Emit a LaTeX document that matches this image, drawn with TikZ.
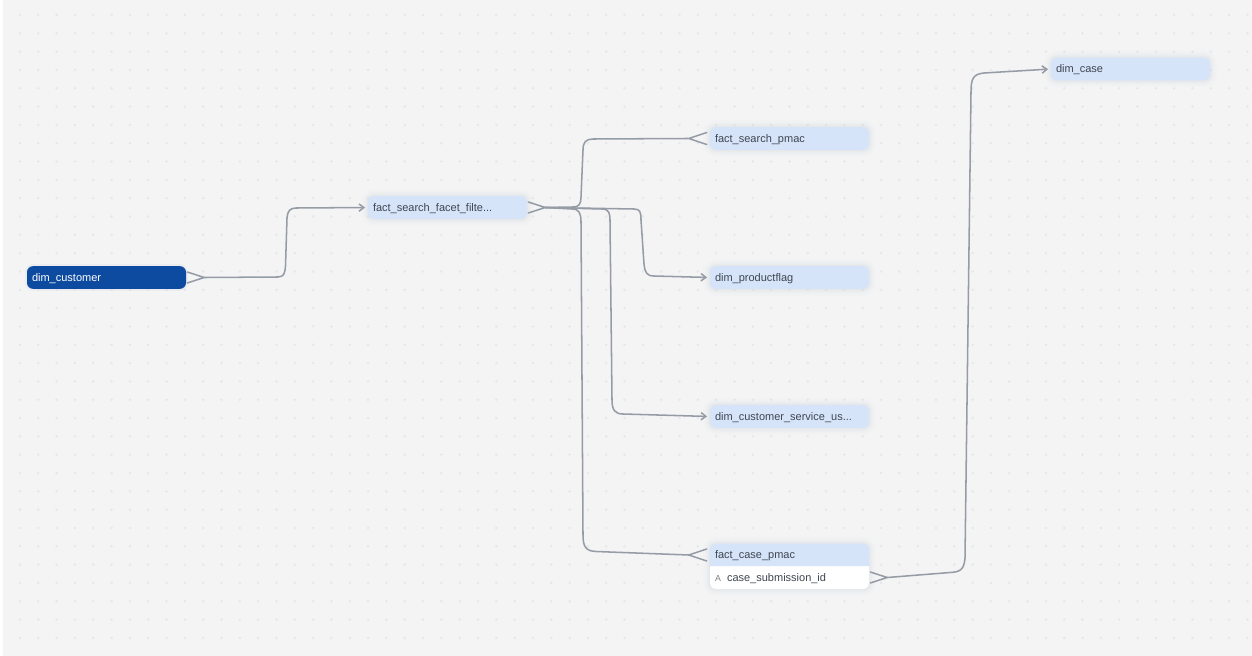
\documentclass[tikz,border=0pt]{standalone}
\usepackage{fontspec}
\setmainfont{Liberation Sans}
\usetikzlibrary{arrows.meta,calc}
\definecolor{canvas}{HTML}{F4F4F5}
\definecolor{griddot}{HTML}{E4E8EA}
\definecolor{paleblue}{HTML}{D6E4FA}
\definecolor{deepblue}{HTML}{0D4BA0}
\definecolor{inktext}{HTML}{3F4650}
\definecolor{linkgrey}{HTML}{959CA6}
\definecolor{halo}{HTML}{D4D8DE}
\tikzset{
  x=0.75pt,y=-0.75pt,
  halostyle/.style={
    preaction={draw=halo,draw opacity=.07,line width=10pt},
    preaction={draw=halo,draw opacity=.10,line width=7pt},
    preaction={draw=halo,draw opacity=.14,line width=4pt},
    preaction={draw=halo,draw opacity=.18,line width=1.8pt}},
  tablebox/.style={rectangle,rounded corners=4.5pt,minimum width=119.25pt,minimum height=17pt,
    text width=111.75pt,inner xsep=3.75pt,inner ysep=0pt,align=left,
    text height=7pt,text depth=1.4pt,
    font=\fontsize{8.25pt}{9.5pt}\selectfont,text=inktext},
  palebox/.style={tablebox,fill=paleblue,halostyle},
  rootbox/.style={tablebox,fill=deepblue,text=white,
    preaction={draw=halo,draw opacity=.25,line width=3pt}},
  textrow/.style={tablebox,rounded corners=0pt},
  link/.style={draw=linkgrey,line width=1.15pt,line join=round,line cap=round},
  arrowlink/.style={link,shorten >=2pt,-{Straight Barb[length=3.6pt,width=5.5pt,line width=1.15pt]}},
}
\newcommand{\crowout}[1]{\draw[link] ($(#1)+(1,-5.5)$) -- ($(#1)+(18,0)$) -- ($(#1)+(1,5.5)$);}
\newcommand{\crowin}[1]{\draw[link] ($(#1)+(-3,-6)$) -- ($(#1)+(-21,0)$) -- ($(#1)+(-3,6)$);}
\begin{document}
\begin{tikzpicture}
\useasboundingbox (0,0) rectangle (1252,656);
\fill[white] (0,0) rectangle (1252,656);
\fill[canvas] (3,0) rectangle (1252,656);
\fill[griddot]
  \foreach \i in {0,...,67}{\foreach \j in {0,...,34}{
    ({20+18.32*\i},{15+18.32*\j}) circle (1.4)}};

% nodes
\node[rootbox] (customer) at (106.5,277.5) {dim\_customer};
\node[palebox] (facet) at (447.5,207.5) {fact\_search\_facet\_filte...};
\node[palebox] (searchpmac) at (789.5,138.5) {fact\_search\_pmac};
\node[palebox] (flag) at (789.5,277.5) {dim\_productflag};
\node[palebox] (service) at (789.5,416.5) {dim\_customer\_service\_us...};
\node[palebox] (dimcase) at (1130.5,69) {dim\_case};
\node[tablebox,fill=white,halostyle,minimum height=33.75pt] (casecard) at (789.5,566.5) {};
\fill[paleblue,rounded corners=4.5pt]
  (casecard.north west) -- (casecard.north east) [sharp corners]
  -- ($(casecard.north east)+(0,22.5)$) -- ($(casecard.north west)+(0,22.5)$) [rounded corners=4.5pt] -- cycle;
\node[textrow] (casepmac) at (789.5,555) {fact\_case\_pmac};
\node[textrow] (submission) at (789.5,577.5) {{\color{gray}\fontsize{6.6pt}{8pt}\selectfont A}\hspace{4.6pt}case\_submission\_id};

% connectors
\crowout{customer.east}
\draw[arrowlink] ($(customer.east)+(18,0)$) -- (278,277)
  .. controls (284,277) and (285,273) .. (285.5,266)
  -- (287,218) .. controls (287.5,211) and (290,208) .. (296,208) -- (facet.west);

\crowout{facet.east}
\draw[link] ($(facet.east)+(18,0)$) -- (573,207)
  .. controls (579,207) and (581,204) .. (581,197)
  -- (583,150) .. controls (583,142) and (586,139) .. (593,139) -- (688,138.5);
\crowin{searchpmac.west}
\draw[arrowlink] ($(facet.east)+(18,0)$) -- (634,209)
  .. controls (640,209) and (641,212) .. (641,220)
  -- (644,264) .. controls (645,273) and (647,276) .. (654,276) -- (flag.west);
\draw[arrowlink] ($(facet.east)+(18,0)$) -- (602,209)
  .. controls (609,209) and (610,213) .. (610,221)
  -- (612,400) .. controls (612,410) and (615,414) .. (623,414) -- (service.west);
\draw[link] ($(facet.east)+(18,0)$) -- (572,209)
  .. controls (579,209) and (581,213) .. (581,222)
  -- (583,535) .. controls (583,547) and (586,551) .. (596,551.5) -- (689,555);
\crowin{casepmac.west}

\crowout{submission.east}
\draw[arrowlink] ($(submission.east)+(18,0)$) -- (950,572.5)
  .. controls (961,572) and (964,569) .. (965,558)
  -- (971,92) .. controls (971,79) and (973,74) .. (984,73) -- (dimcase.west);
\end{tikzpicture}
\end{document}
